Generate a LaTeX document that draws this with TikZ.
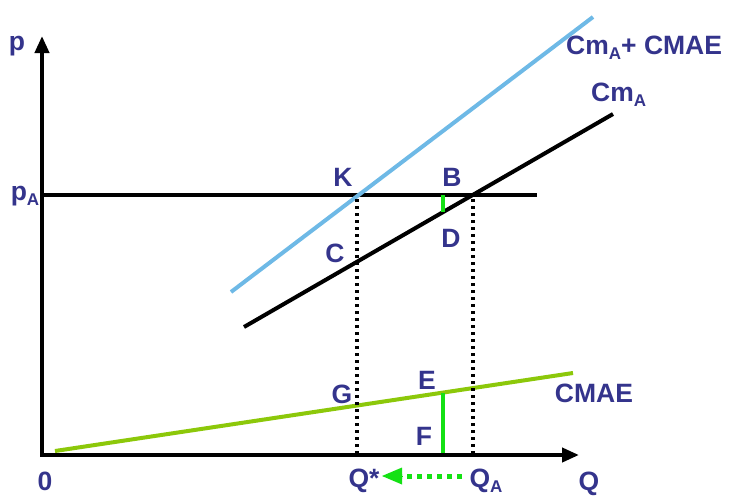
\documentclass[tikz,border=0pt]{standalone}
\usepackage{fontspec}
\setmainfont{Liberation Sans}
\usetikzlibrary{arrows.meta}
\definecolor{labc}{RGB}{52,52,140}
\definecolor{bluec}{RGB}{110,185,230}
\definecolor{greenc}{RGB}{140,200,10}
\definecolor{brightg}{RGB}{20,225,20}
\newcommand{\subtxt}[1]{\raisebox{-0.22em}{\fontsize{17}{17}\selectfont #1}}
\tikzset{
  lab/.style={font=\fontsize{26.5}{26.5}\selectfont\bfseries, text=labc, inner sep=0pt, anchor=base},
  axis/.style={line width=4pt, -{Triangle[length=17pt,width=14pt]}},
  curve/.style={line width=4pt},
  dotline/.style={line width=3.6pt, dash pattern=on 3.4pt off 3.6pt},
  gdot/.style={line width=5pt, dash pattern=on 5pt off 5pt, brightg}
}
\begin{document}
\begin{tikzpicture}[x=1pt,y=-1pt]
\useasboundingbox (0,0) rectangle (731,496);
% coordinates
\coordinate (O) at (42,455);
\coordinate (Ptop) at (42,36);
\coordinate (Qend) at (579,455);
\coordinate (pa1) at (42,195);
\coordinate (pa2) at (537,195);
\coordinate (b1) at (231,292);
\coordinate (b2) at (593,17);
\coordinate (k1) at (244,327);
\coordinate (k2) at (613,114);
\coordinate (g1) at (55,451);
\coordinate (g2) at (573,373);
\coordinate (Kp) at (357,199);
\coordinate (Kb) at (357,453);
\coordinate (Bp) at (473,199);
\coordinate (Bb) at (473,453);
\coordinate (Btop) at (443,195);
\coordinate (Dpt) at (443,212);
\coordinate (Ept) at (443,393);
\coordinate (Fpt) at (443,455);
\coordinate (arS) at (462,476);
\coordinate (arM) at (402,476);
\coordinate (arE) at (382,476);
% curves
\draw[curve] (pa1) -- (pa2);
\draw[curve, bluec] (b1) -- (b2);
\draw[curve] (k1) -- (k2);
\draw[curve, greenc] (g1) -- (g2);
\draw[dotline] (Kp) -- (Kb);
\draw[dotline] (Bp) -- (Bb);
\draw[line width=4pt, brightg] (Btop) -- (Dpt);
\draw[line width=4pt, brightg] (Ept) -- (Fpt);
\draw[gdot] (arS) -- (arM);
\draw[brightg, line width=0pt, -{Triangle[length=20pt,width=17pt]}] (arM) -- (arE);
% axes
\draw[axis, line cap=rect] (O) -- (Ptop);
\draw[axis] (O) -- (Qend);
% labels
\node[lab] (lp) at (17,50) {p};
\node[lab] (lpa) at (25,200) {p\subtxt{A}};
\node[lab] (lK) at (343,186) {K};
\node[lab] (lB) at (452,186) {B};
\node[lab] (lC) at (335,262) {C};
\node[lab] (lD) at (451,247) {D};
\node[lab] (lG) at (342,403) {G};
\node[lab] (lE) at (427,389) {E};
\node[lab] (lF) at (424,445) {F};
\node[lab] (lQs) at (364,487) {Q*};
\node[lab] (lQA) at (486,487) {Q\subtxt{A}};
\node[lab] (lQ) at (589,490) {Q};
\node[lab] (l0) at (45,490) {0};
\node[lab] (lCMAE) at (594,402) {CMAE};
\node[lab, anchor=base west] (lsum) at (566,54) {Cm\subtxt{A}+ CMAE};
\node[lab, anchor=base west] (lcm) at (591,101) {Cm\subtxt{A}};
\end{tikzpicture}
\end{document}
